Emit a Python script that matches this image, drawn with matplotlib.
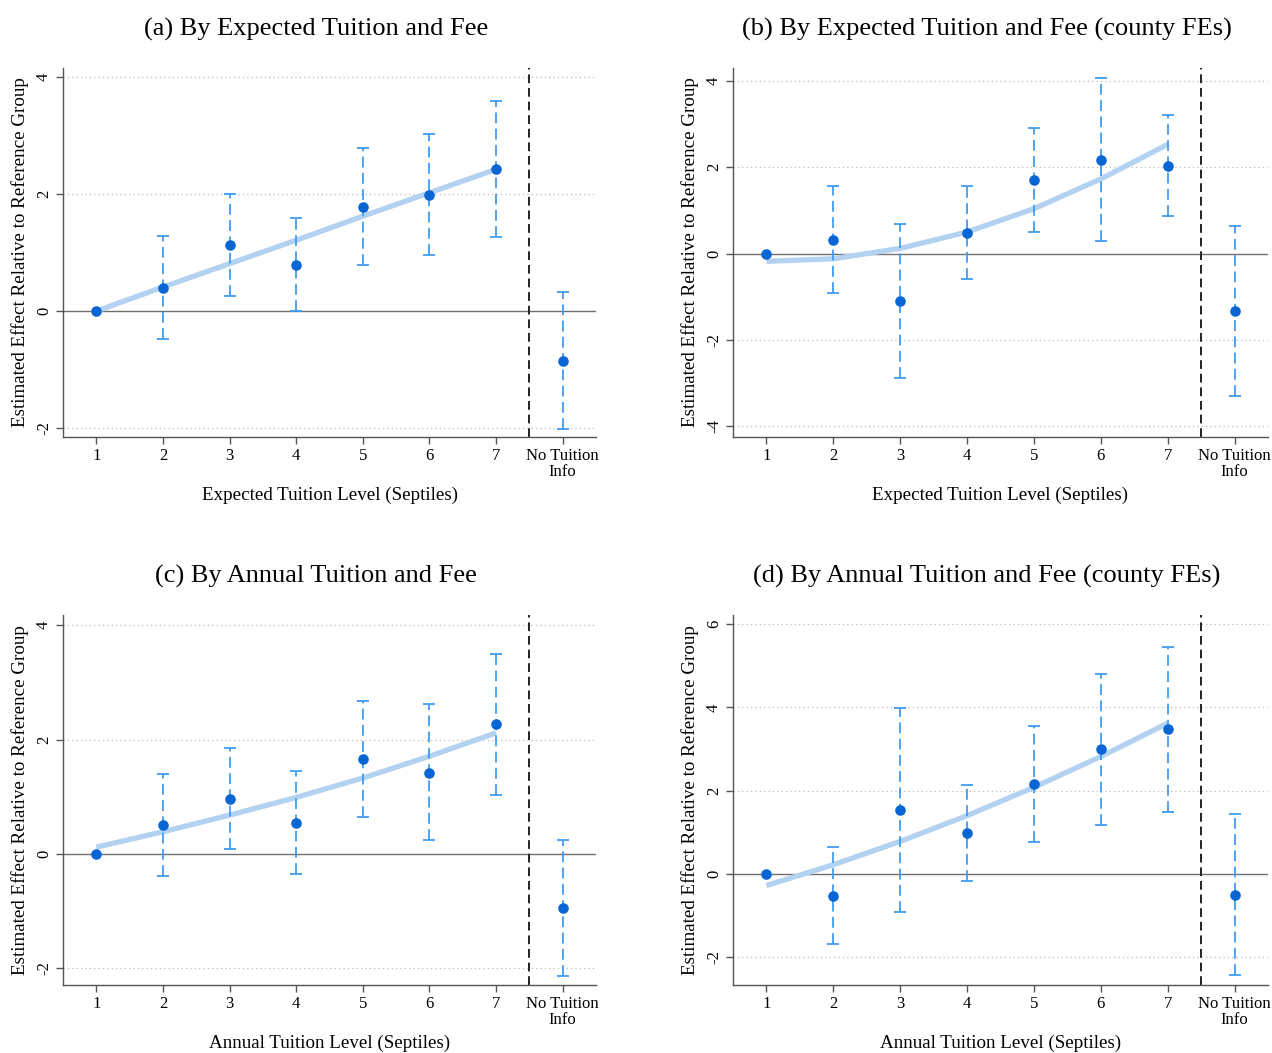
import matplotlib
matplotlib.use("Agg")
import matplotlib.pyplot as plt
import numpy as np

plt.rcParams['font.family'] = ['Liberation Serif', 'DejaVu Serif']

# ---- data ----
x_pos = [1, 2, 3, 4, 5, 6, 7, 8]
x_labels = ["1", "2", "3", "4", "5", "6", "7", "No Tuition\nInfo"]

titles = ["(a) By Expected Tuition and Fee",
          "(b) By Expected Tuition and Fee (county FEs)",
          "(c) By Annual Tuition and Fee",
          "(d) By Annual Tuition and Fee (county FEs)"]
xlabels = ["Expected Tuition Level (Septiles)",
           "Expected Tuition Level (Septiles)",
           "Annual Tuition Level (Septiles)",
           "Annual Tuition Level (Septiles)"]
ylabel = "Estimated Effect Relative to Reference Group"

# panel (a)
est_a = [0.0, 0.40, 1.12, 0.79, 1.78, 1.99, 2.42, -0.85]
lo_a = [np.nan, -0.48, 0.26, 0.00, 0.78, 0.96, 1.26, -2.01]
hi_a = [np.nan, 1.29, 2.00, 1.59, 2.79, 3.03, 3.58, 0.33]
fit_a = [0.0, 0.41, 0.81, 1.21, 1.62, 2.02, 2.42]

# panel (b)
est_b = [0.0, 0.32, -1.11, 0.48, 1.70, 2.17, 2.03, -1.34]
lo_b = [np.nan, -0.91, -2.89, -0.60, 0.50, 0.29, 0.86, -3.30]
hi_b = [np.nan, 1.56, 0.68, 1.56, 2.92, 4.06, 3.22, 0.63]
fit_b = [-0.18, -0.12, 0.12, 0.50, 1.04, 1.73, 2.53]

# panel (c)
est_c = [0.0, 0.50, 0.97, 0.55, 1.66, 1.42, 2.27, -0.94]
lo_c = [np.nan, -0.39, 0.08, -0.35, 0.65, 0.24, 1.04, -2.13]
hi_c = [np.nan, 1.40, 1.85, 1.45, 2.68, 2.62, 3.50, 0.24]
fit_c = [0.12, 0.39, 0.68, 0.99, 1.33, 1.71, 2.12]

# panel (d)
est_d = [0.0, -0.52, 1.53, 0.98, 2.15, 3.00, 3.47, -0.50]
lo_d = [np.nan, -1.69, -0.92, -0.17, 0.76, 1.18, 1.49, -2.43]
hi_d = [np.nan, 0.65, 3.98, 2.13, 3.55, 4.80, 5.45, 1.45]
fit_d = [-0.28, 0.22, 0.78, 1.40, 2.08, 2.82, 3.62]

panels = [
    (est_a, lo_a, hi_a, fit_a, (-2.15, 4.15), [-2, 0, 2, 4]),
    (est_b, lo_b, hi_b, fit_b, (-4.25, 4.30), [-4, -2, 0, 2, 4]),
    (est_c, lo_c, hi_c, fit_c, (-2.29, 4.18), [-2, 0, 2, 4]),
    (est_d, lo_d, hi_d, fit_d, (-2.67, 6.22), [-2, 0, 2, 4, 6]),
]

W, H = 1272, 1053
fig = plt.figure(figsize=(W / 100, H / 100), dpi=100)

boxes = [(63, 68, 596, 437), (733, 68, 1268, 437),
         (63, 615, 596, 985), (733, 615, 1268, 985)]

point_col = "#0866d4"
err_col = "#3f9cf2"
fit_col = "#b3d1f0"

for i, ((est, lo, hi, fit, ylim, yt), (l, t, r, b)) in enumerate(zip(panels, boxes)):
    ax = fig.add_axes([l / W, 1 - b / H, (r - l) / W, (b - t) / H])
    est = np.array(est); lo = np.array(lo); hi = np.array(hi)
    ax.axhline(0, color="#707070", lw=1.0, zorder=1)
    for v in yt:
        if v != 0:
            ax.axhline(v, color="#bbbbbb", lw=0.9, ls=(0, (1, 2.5)), zorder=0)
    ax.axvline(7.5, color="#222222", lw=1.4, ls=(0, (4.5, 2.5)), zorder=1)
    ax.plot(x_pos[:7], fit, color=fit_col, lw=3.8, solid_capstyle="butt", zorder=2)
    mask = ~np.isnan(lo)
    xp = np.array(x_pos)[mask]
    eb = ax.errorbar(xp, est[mask], yerr=[est[mask] - lo[mask], hi[mask] - est[mask]],
                     fmt="none", ecolor=err_col, elinewidth=1.3, capsize=4.5,
                     capthick=1.3, zorder=3)
    eb[2][0].set_linestyle((0, (6, 3)))
    ax.plot(x_pos, est, "o", color=point_col, ms=6.6, zorder=4)
    ax.set_xlim(0.5, 8.5)
    ax.set_ylim(*ylim)
    ax.set_yticks(yt)
    ax.set_yticklabels([str(v) for v in yt], rotation=90, va="center", fontsize=12)
    ax.set_xticks(x_pos)
    ax.set_xticklabels(x_labels, fontsize=12, linespacing=0.95)
    for s in ["top", "right"]:
        ax.spines[s].set_visible(False)
    for s in ["left", "bottom"]:
        ax.spines[s].set_color("#555555")
        ax.spines[s].set_linewidth(1.0)
    ax.tick_params(axis="both", direction="out", length=5, color="#555555", width=1.0)
    ax.tick_params(axis="x", pad=3)
    ax.tick_params(axis="y", pad=3)
    ax.set_title(titles[i], fontsize=19, pad=23.5, x=0.474)
    ax.set_xlabel(xlabels[i], fontsize=13.7, labelpad=5)
    ax.set_ylabel(ylabel, fontsize=13.7, labelpad=5)

fig.savefig("out.png", dpi=100)
